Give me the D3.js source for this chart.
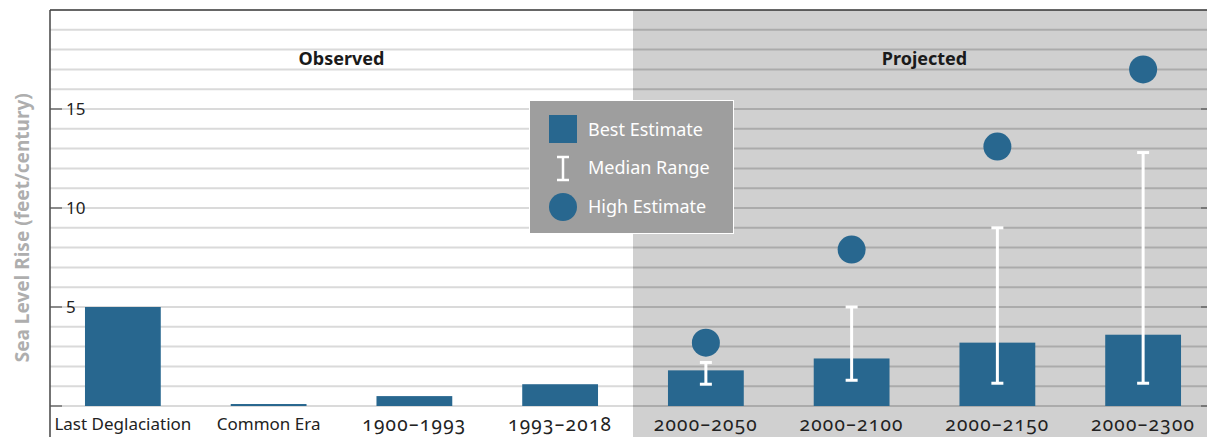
<!DOCTYPE html>
<html><head><meta charset="utf-8">
<script src="https://cdn.jsdelivr.net/npm/d3@7"></script>
<style>body{margin:0;background:#fff}svg{display:block;font-family:"Noto Sans",sans-serif}</style>
</head><body><svg id="c" width="1207" height="437"></svg>
<script>
const categories = ["Last Deglaciation","Common Era","1900–1993","1993–2018","2000–2050","2000–2100","2000–2150","2000–2300"];
const bestEstimate = [5.0, 0.1, 0.5, 1.1, 1.8, 2.4, 3.2, 3.6];
const rangeLow  = [null, null, null, null, 1.1, 1.3, 1.15, 1.15];
const rangeHigh = [null, null, null, null, 2.2, 5.0, 9.0, 12.8];
const highEstimate = [null, null, null, null, 3.2, 7.9, 13.1, 17.0];
const yTicks = [0, 5, 10, 15];
const groups = ["Observed", "Projected"];
const legendLabels = ["Best Estimate", "Median Range", "High Estimate"];

const W = 1207, H = 437;
const svg = d3.select("#c");
const blue = "#28678f";
const x = d3.scaleBand().domain(categories).range([50, 1216]).paddingInner(0.48).paddingOuter(0.24);
const y = d3.scaleLinear().domain([0, 20]).range([406, 10]);
const splitX = x(categories[4]) - x.step() * x.paddingInner() / 2;

// projected shaded region
svg.append("rect").attr("x", splitX).attr("y", y(20)).attr("width", W - splitX).attr("height", H - y(20)).attr("fill", "#d0d0d0");

// gridlines
const gridVals = d3.range(0, 20);
gridVals.forEach(v => {
  svg.append("line").attr("x1", 50).attr("x2", splitX).attr("y1", y(v)).attr("y2", y(v)).attr("stroke", "#dadada").attr("stroke-width", 2);
  svg.append("line").attr("x1", splitX).attr("x2", W).attr("y1", y(v)).attr("y2", y(v)).attr("stroke", "#ababab").attr("stroke-width", 2);
});

// frame
svg.append("line").attr("x1", 50).attr("x2", W).attr("y1", y(20)).attr("y2", y(20)).attr("stroke", "#333").attr("stroke-width", 1.5);
svg.append("line").attr("x1", 50).attr("x2", 50).attr("y1", y(20)).attr("y2", H).attr("stroke", "#444").attr("stroke-width", 1.5);

// axis ticks
const yAxis = svg.append("g");
yTicks.forEach(t => {
  yAxis.append("line").attr("x1", 50).attr("x2", 62).attr("y1", y(t)).attr("y2", y(t)).attr("stroke", "#555").attr("stroke-width", 1.2);
  yAxis.append("line").attr("x1", 1201).attr("x2", W).attr("y1", y(t)).attr("y2", y(t)).attr("stroke", "#555").attr("stroke-width", 1.2);
  if (t > 0) yAxis.append("text").attr("x", 66).attr("y", y(t)).attr("dy", "0.35em").attr("font-size", 17).attr("fill", "#222").text(t);
});

// axis title
svg.append("text").attr("transform", `translate(29,${y(9)}) rotate(-90)`).attr("text-anchor", "middle")
  .attr("font-size", 19).attr("font-weight", "bold").attr("fill", "#aeaeae").text("Sea Level Rise (feet/century)");

// group headers
svg.append("text").attr("x", (50 + splitX) / 2).attr("y", 59).attr("dy", "0.35em").attr("text-anchor", "middle").attr("font-size", 18).attr("font-weight", "bold").attr("fill", "#1a1a1a").text(groups[0]);
svg.append("text").attr("x", (splitX + x.range()[1]) / 2).attr("y", 59).attr("dy", "0.35em").attr("text-anchor", "middle").attr("font-size", 18).attr("font-weight", "bold").attr("fill", "#1a1a1a").text(groups[1]);

// bars
svg.selectAll("rect.bar").data(categories).join("rect").attr("class", "bar")
  .attr("x", d => x(d)).attr("width", x.bandwidth())
  .attr("y", (d, i) => y(bestEstimate[i])).attr("height", (d, i) => y(0) - y(bestEstimate[i]))
  .attr("fill", blue);

// error bars
categories.forEach((c, i) => {
  if (rangeLow[i] == null) return;
  const cx = x(c) + x.bandwidth() / 2;
  const g = svg.append("g").attr("stroke", "#fff").attr("stroke-width", 3);
  g.append("line").attr("x1", cx).attr("x2", cx).attr("y1", y(rangeLow[i])).attr("y2", y(rangeHigh[i]));
  g.append("line").attr("x1", cx - 6).attr("x2", cx + 6).attr("y1", y(rangeLow[i])).attr("y2", y(rangeLow[i]));
  g.append("line").attr("x1", cx - 6).attr("x2", cx + 6).attr("y1", y(rangeHigh[i])).attr("y2", y(rangeHigh[i]));
});

// high estimate circles
categories.forEach((c, i) => {
  if (highEstimate[i] == null) return;
  svg.append("circle").attr("cx", x(c) + x.bandwidth() / 2).attr("cy", y(highEstimate[i])).attr("r", 14).attr("fill", blue);
});

// x labels
const isNum = d => /^\d/.test(d);
svg.selectAll("text.xl").data(categories).join("text").attr("class", "xl")
  .attr("x", d => x(d) + x.bandwidth() / 2).attr("y", 424).attr("dy", "0.35em").attr("text-anchor", "middle")
  .attr("font-size", d => isNum(d) ? 19 : 17).attr("fill", "#222")
  .style("font-variant-numeric", "oldstyle-nums")
  .style("letter-spacing", d => isNum(d) ? "1.3px" : "0px")
  .text(d => d);

// legend
const lg = svg.append("g");
lg.append("rect").attr("x", 529.5).attr("y", 100.5).attr("width", 204).attr("height", 133).attr("fill", "#9e9e9e").attr("stroke", "#fff").attr("stroke-width", 1);
lg.append("rect").attr("x", 549).attr("y", 115).attr("width", 28).attr("height", 28).attr("fill", blue);
const ib = lg.append("g").attr("stroke", "#fff").attr("stroke-width", 2.5);
ib.append("line").attr("x1", 563).attr("x2", 563).attr("y1", 157).attr("y2", 180);
ib.append("line").attr("x1", 557).attr("x2", 569).attr("y1", 157).attr("y2", 157);
ib.append("line").attr("x1", 557).attr("x2", 569).attr("y1", 180).attr("y2", 180);
lg.append("circle").attr("cx", 563).attr("cy", 207).attr("r", 14).attr("fill", blue);
[130, 168, 207].forEach((ly, i) => {
  lg.append("text").attr("x", 588).attr("y", ly).attr("dy", "0.35em").attr("font-size", 18).attr("fill", "#fff").text(legendLabels[i]);
});
</script></body></html>
